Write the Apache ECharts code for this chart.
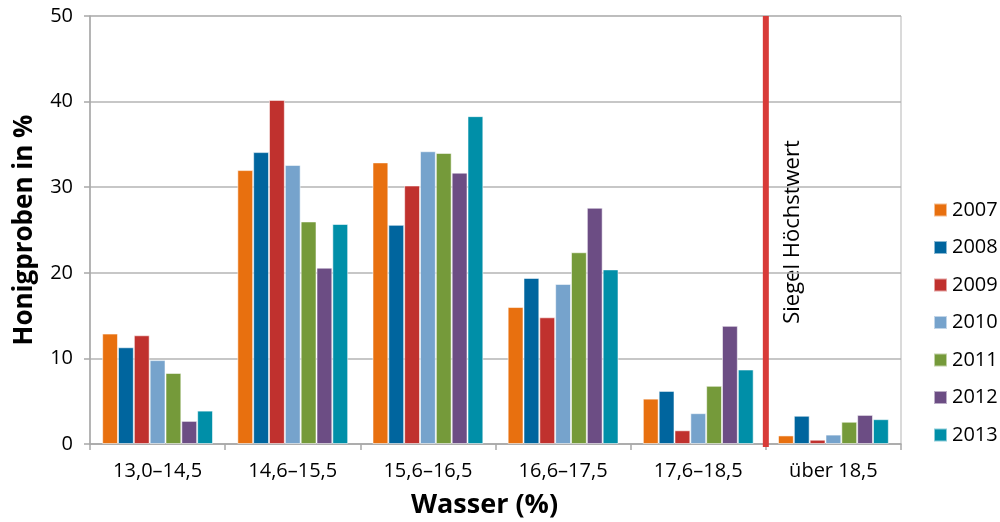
<!DOCTYPE html>
<html>
<head>
<meta charset="utf-8">
<script src="https://cdn.jsdelivr.net/npm/echarts@6/dist/echarts.min.js"></script>
<style>
  html, body { margin: 0; padding: 0; background: #fff; }
  #chart { width: 1000px; height: 522px; }
</style>
</head>
<body>
<div id="chart"></div>
<script>
// Water content classes of honey samples
const categories = ['13,0–14,5', '14,6–15,5', '15,6–16,5', '16,6–17,5', '17,6–18,5', 'über 18,5'];
const years = ['2007', '2008', '2009', '2010', '2011', '2012', '2013'];

// Share of honey samples (%) per class, one array per year
const v2007 = [12.9, 32.0, 32.9, 16.0, 5.3, 1.0];
const v2008 = [11.3, 34.1, 25.6, 19.4, 6.2, 3.3];
const v2009 = [12.7, 40.2, 30.2, 14.8, 1.6, 0.5];
const v2010 = [9.8, 32.6, 34.2, 18.7, 3.6, 1.1];
const v2011 = [8.3, 26.0, 34.0, 22.4, 6.8, 2.6];
const v2012 = [2.7, 20.6, 31.7, 27.6, 13.8, 3.4];
const v2013 = [3.9, 25.7, 38.3, 20.4, 8.7, 2.9];
const seriesValues = [v2007, v2008, v2009, v2010, v2011, v2012, v2013];

// Position of the quality seal limit on a 0..6 class scale (boundary after 17,6–18,5)
const sealLimitX = 5;
const sealLimitLabel = 'Siegel Höchstwert';

const colors = ['#e8700f', '#00659e', '#c0312e', '#76a3cc', '#759a3a', '#6c4d84', '#008fa8'];
const font = '"Open Sans", "Noto Sans", sans-serif';

const chart = echarts.init(document.getElementById('chart'));

const barSeries = years.map((y, i) => ({
  name: y,
  type: 'bar',
  data: seriesValues[i],
  barGap: '0%',
  barCategoryGap: '18%',
  itemStyle: { color: colors[i], borderColor: 'rgba(255,255,255,0.55)', borderWidth: 1 },
  emphasis: { disabled: true }
}));

chart.setOption({
  animation: false,
  textStyle: { fontFamily: font },
  grid: {
    left: 90, right: 99, top: 16, bottom: 78,
    outerBoundsMode: 'none', containLabel: false,
    show: true, borderColor: '#b5b5b5', borderWidth: 1
  },
  legend: {
    data: years,
    orient: 'vertical',
    left: 933,
    top: 200,
    padding: 0,
    itemWidth: 13,
    itemHeight: 13,
    itemGap: 17.5,
    icon: 'rect',
    textStyle: { fontFamily: font, fontSize: 20, lineHeight: 20, color: '#000', padding: [0, 0, 0, 0] }
  },
  xAxis: [
    {
      type: 'category',
      data: categories,
      axisLine: { lineStyle: { color: '#a8a8a8', width: 1.5 } },
      axisTick: { show: true, length: 6, lineStyle: { color: '#a8a8a8', width: 1.5 } },
      axisLabel: { fontFamily: font, fontSize: 20, color: '#000', margin: 17 },
      name: 'Wasser (%)',
      nameLocation: 'middle',
      nameGap: 48,
      nameTextStyle: { fontFamily: font, fontSize: 27, fontWeight: 'bold', color: '#000', padding: [0, 22, 0, 0] }
    },
    { type: 'value', min: 0, max: 6, show: false }
  ],
  yAxis: {
    type: 'value',
    min: 0,
    max: 50,
    interval: 10,
    axisLine: { show: true, lineStyle: { color: '#a8a8a8', width: 1.5 } },
    axisTick: { show: true, length: 6, lineStyle: { color: '#a8a8a8', width: 1.5 } },
    axisLabel: { fontFamily: font, fontSize: 20, color: '#000', margin: 17 },
    splitLine: { lineStyle: { color: '#b5b5b5', width: 1.5 } },
    name: 'Honigproben in %',
    nameLocation: 'middle',
    nameGap: 52,
    nameTextStyle: { fontFamily: font, fontSize: 26, fontWeight: 'bold', color: '#000' }
  },
  series: barSeries.concat([{
    name: 'limit',
    type: 'line',
    xAxisIndex: 1,
    data: [[sealLimitX, -0.4], [sealLimitX, 50]],
    symbol: 'none',
    silent: true,
    lineStyle: { color: '#d83b38', width: 6 },
    z: 5
  }]),
  graphic: [{
    type: 'text',
    x: 793,
    y: 232,
    rotation: Math.PI / 2,
    style: {
      text: sealLimitLabel,
      fontFamily: font,
      fontSize: 22,
      fill: '#000',
      textAlign: 'center',
      textVerticalAlign: 'middle'
    }
  }]
});
</script>
</body>
</html>
